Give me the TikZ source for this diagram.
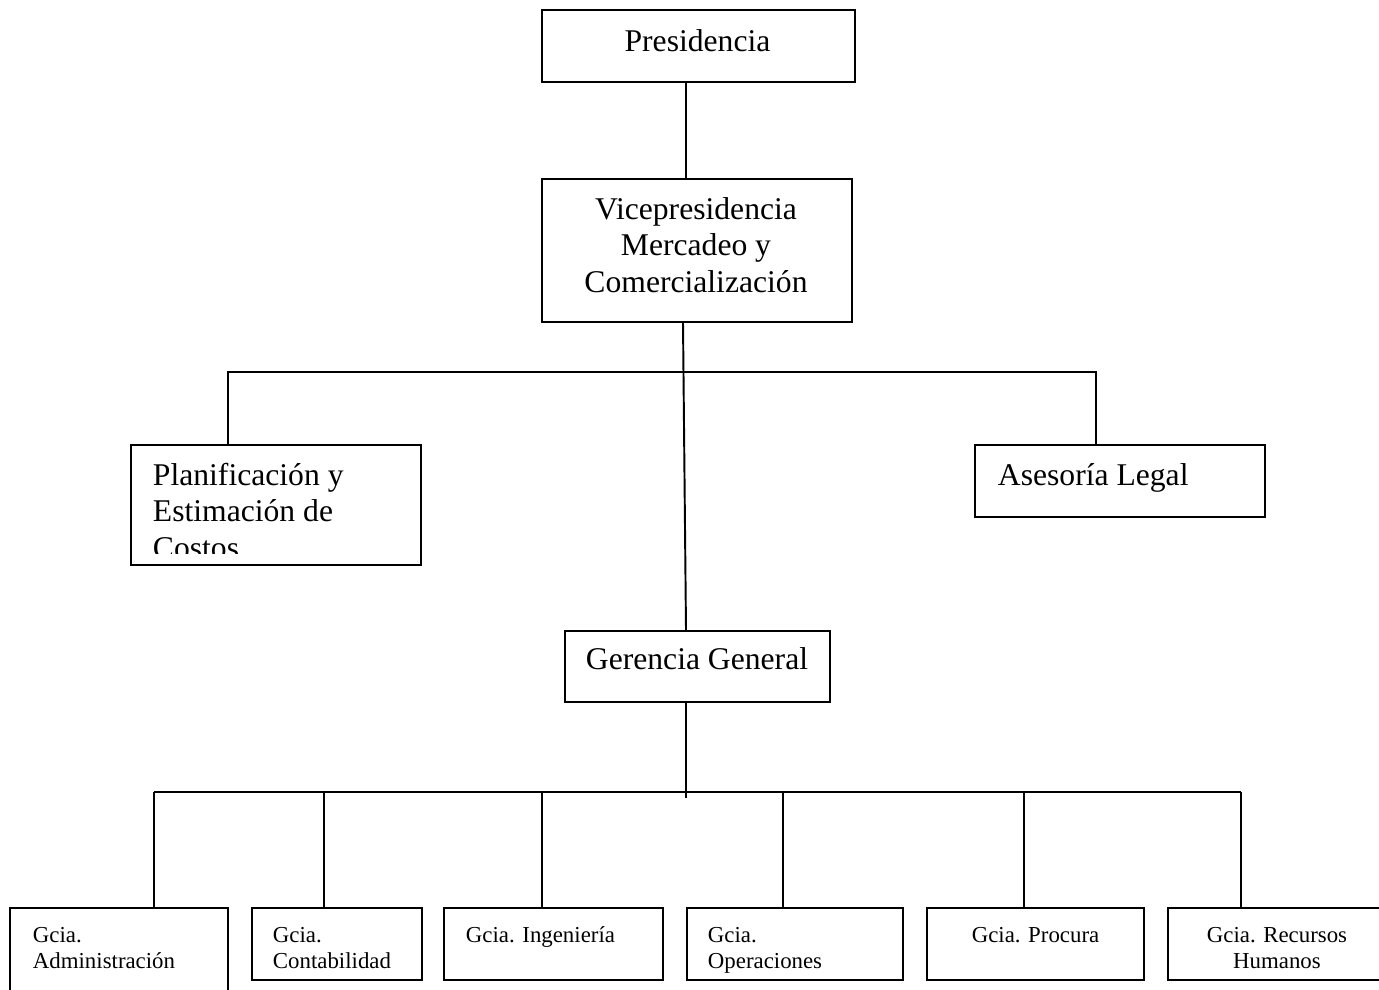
\documentclass[tikz,border=0pt]{standalone}
\usepackage{fontspec}
\setmainfont{Liberation Serif}
\usetikzlibrary{positioning}

\tikzset{
  box/.style={draw, line width=1.1pt, inner sep=0pt},
  big/.style={font=\fontsize{18}{20.7}\selectfont, inner sep=0pt},
  small/.style={font=\fontsize{13}{14.7}\selectfont, inner sep=0pt},
}

\begin{document}
\begin{tikzpicture}[x=0.02cm, y=-0.02cm, line width=1.1pt]
    \useasboundingbox (0,0) rectangle (1379,990);

    % boxes
    \node[box, minimum width=6.26cm, minimum height=1.44cm] (pres) at (698.5,46) {};
    \node[box, minimum width=6.2cm, minimum height=2.86cm] (vice) at (697,250.5) {};
    \node[box, minimum width=5.8cm, minimum height=2.4cm] (plan) at (276,505) {};
    \node[box, minimum width=5.8cm, minimum height=1.44cm] (ases) at (1120,481) {};
    \node[box, minimum width=5.3cm, minimum height=1.42cm] (ger) at (697.5,666.5) {};
    \node[box, minimum width=4.36cm, minimum height=1.74cm] (adm) at (119,951.5) {};
    \node[box, minimum width=3.4cm, minimum height=1.44cm] (con) at (337,944) {};
    \node[box, minimum width=4.38cm, minimum height=1.44cm] (ing) at (553.5,944) {};
    \node[box, minimum width=4.32cm, minimum height=1.44cm] (ope) at (795,944) {};
    \node[box, minimum width=4.34cm, minimum height=1.44cm] (pro) at (1035.5,944) {};
    \node[box, minimum width=4.36cm, minimum height=1.44cm] (rrhh) at (1277,944) {};

    % texts (multi-line ones sit on their last baseline)
    \node[big, anchor=base] (presT) at (697.5,52) {Presidencia};
    \node[big, anchor=base, align=center] (viceT) at (696,292)
        {Vicepresidencia\\Mercadeo y\\Comercialización};
    \begin{scope}
        \clip (131,445) rectangle (421,553);
        \node[big, anchor=base west, align=left] (planT) at (152,558)
            {Planificación y\\Estimación de\\Costos};
    \end{scope}
    \node[big, anchor=base west] (asesT) at (997,485) {Asesoría Legal};
    \node[big, anchor=base] (gerT) at (697,669) {Gerencia General};
    \node[small, anchor=base west, align=left] (admT) at (32,968) {Gcia.\\Administración};
    \node[small, anchor=base west, align=left] (conT) at (272,968) {Gcia.\\Contabilidad};
    \node[small, anchor=base west] (ingT) at (465,942) {Gcia. Ingeniería};
    \begin{scope}
        \clip (687,908) rectangle (903,974);
        \node[small, anchor=base west, align=left] (opeT) at (707,968) {Gcia.\\Operaciones};
    \end{scope}
    \node[small, anchor=base] (proT) at (1035.5,942) {Gcia. Procura};
    \node[small, anchor=base, align=center] (rrhhT) at (1277,968) {Gcia. Recursos\\Humanos};

    % connectors
    \coordinate (top) at (686,0);
    \coordinate (mid) at (683,0);
    \coordinate (bar1) at (686,372);
    \coordinate (bar2) at (686,792);
    \draw (top |- pres.south) -- (top |- vice.north);
    \draw (mid |- vice.south) -- (top |- ger.north);
    \draw (plan.north -| 228,0) |- (bar1) -| (ases.north -| 1096,0);
    \draw (top |- ger.south) -- ++(0,95);
    \draw (154,792) -- (1241,792);
    \foreach \n/\x in {adm/154, con/324, ing/542, ope/783, pro/1024, rrhh/1241}
        \draw (\x,792) -- (\n.north -| \x,0);
\end{tikzpicture}
\end{document}
